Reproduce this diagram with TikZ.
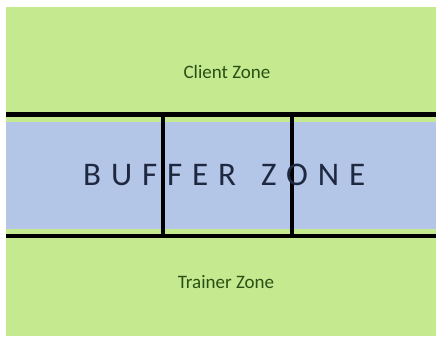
\documentclass[tikz,border=0pt]{standalone}
\usepackage{fontspec}
\setmainfont{Carlito}
\definecolor{zonegreen}{RGB}{196,233,143}
\definecolor{bufblue}{RGB}{180,198,231}
\definecolor{zonetext}{RGB}{40,80,20}
\definecolor{buftext}{RGB}{30,40,64}
\begin{document}
\begin{tikzpicture}[x=1pt,y=-1pt,
  bar/.style={line width=4.5pt,black},
  zonelabel/.style={text=zonetext,font=\fontsize{19}{22}\selectfont,inner sep=0pt},
  buflabel/.style={text=buftext,font=\fontsize{33}{38}\selectfont\addfontfeature{LetterSpace=30},inner sep=0pt}]
\useasboundingbox (0,0) rectangle (436,337);
\fill[white] (0,0) rectangle (436,337);
\fill[zonegreen] (6,7) rectangle (436,336);
\fill[bufblue] (6,122) rectangle (436,229);
\draw[bar] (6,114.5) -- (436,114.5);
\draw[bar] (6,236) -- (436,236);
\draw[line width=4pt] (163,114.5) -- (163,236);
\draw[line width=4pt] (292,114.5) -- (292,236);
\node[zonelabel] (client) at (227,72) {Client Zone};
\node[zonelabel] (trainer) at (226,282) {Trainer Zone};
\node[buflabel,anchor=base west] (buffer) at (83,185) {BUFFER\hspace{25pt}ZONE};
\end{tikzpicture}
\end{document}
